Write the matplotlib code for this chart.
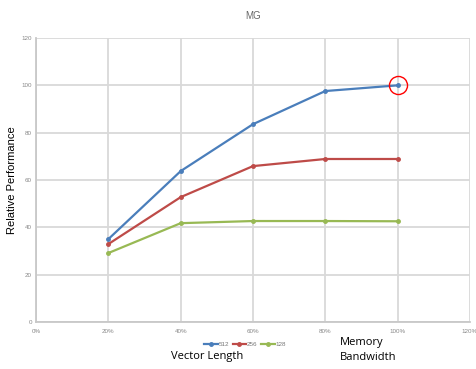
import matplotlib
matplotlib.use("Agg")
from matplotlib import pyplot as plt
plt.rcParams['font.family'] = ['Liberation Sans', 'DejaVu Sans']

x_pct = [20, 40, 60, 80, 100]
perf_512 = [35.1, 63.8, 83.6, 97.6, 100.0]
perf_256 = [33.0, 52.8, 65.9, 68.9, 68.9]
perf_128 = [29.2, 41.8, 42.7, 42.7, 42.6]
series = [("512", perf_512, "#4a7ebb"), ("256", perf_256, "#be4b48"), ("128", perf_128, "#98b954")]
xticks = [0, 20, 40, 60, 80, 100, 120]
yticks = [0, 20, 40, 60, 80, 100, 120]

fig = plt.figure(figsize=(4.76, 3.69), dpi=100)
ax = fig.add_axes([0.076, 0.127, 0.911, 0.770])

for name, vals, col in series:
    ax.plot(x_pct, vals, "-o", color=col, lw=1.6, ms=2.5, label=name)

# highlight the top point
ax.plot([x_pct[-1]], [perf_512[-1]], "o", ms=13, mfc="none", mec="red", mew=1.0)

ax.set_xlim(0, 120)
ax.set_ylim(0, 120)
ax.set_xticks(xticks)
ax.set_xticklabels([f"{t}%" for t in xticks])
ax.set_yticks(yticks)
ax.tick_params(labelsize=4.5, colors="#888888", length=0)
ax.tick_params(axis="x", pad=5)
ax.tick_params(axis="y", pad=3)
ax.grid(True, color="#d9d9d9", lw=1.3)
ax.set_axisbelow(True)
for s in ["top", "right"]:
    ax.spines[s].set_visible(False)
for s in ["left", "bottom"]:
    ax.spines[s].set_color("#c8c8c8")
    ax.spines[s].set_linewidth(1.3)

ax.set_title("MG", fontsize=7, color="#666666", pad=14)
ax.set_ylabel("Relative Performance", fontsize=8, labelpad=3)

fig.legend(loc="center", bbox_to_anchor=(245 / 476, 1 - 344 / 369), ncol=3, fontsize=4.5,
           frameon=False, handlelength=2.2, handletextpad=0.1, columnspacing=0.6,
           labelcolor="#777777")

fig.text(207 / 476, 1 - 357 / 369, "Vector Length", fontsize=8, ha="center", va="center",
         family=["Open Sans", "DejaVu Sans"])
fig.text(340 / 476, 1 - 342 / 369, "Memory", fontsize=8, ha="left", va="center",
         family=["Open Sans", "DejaVu Sans"])
fig.text(340 / 476, 1 - 357 / 369, "Bandwidth", fontsize=8, ha="left", va="center",
         family=["Open Sans", "DejaVu Sans"])

fig.savefig("out.png", dpi=100)
